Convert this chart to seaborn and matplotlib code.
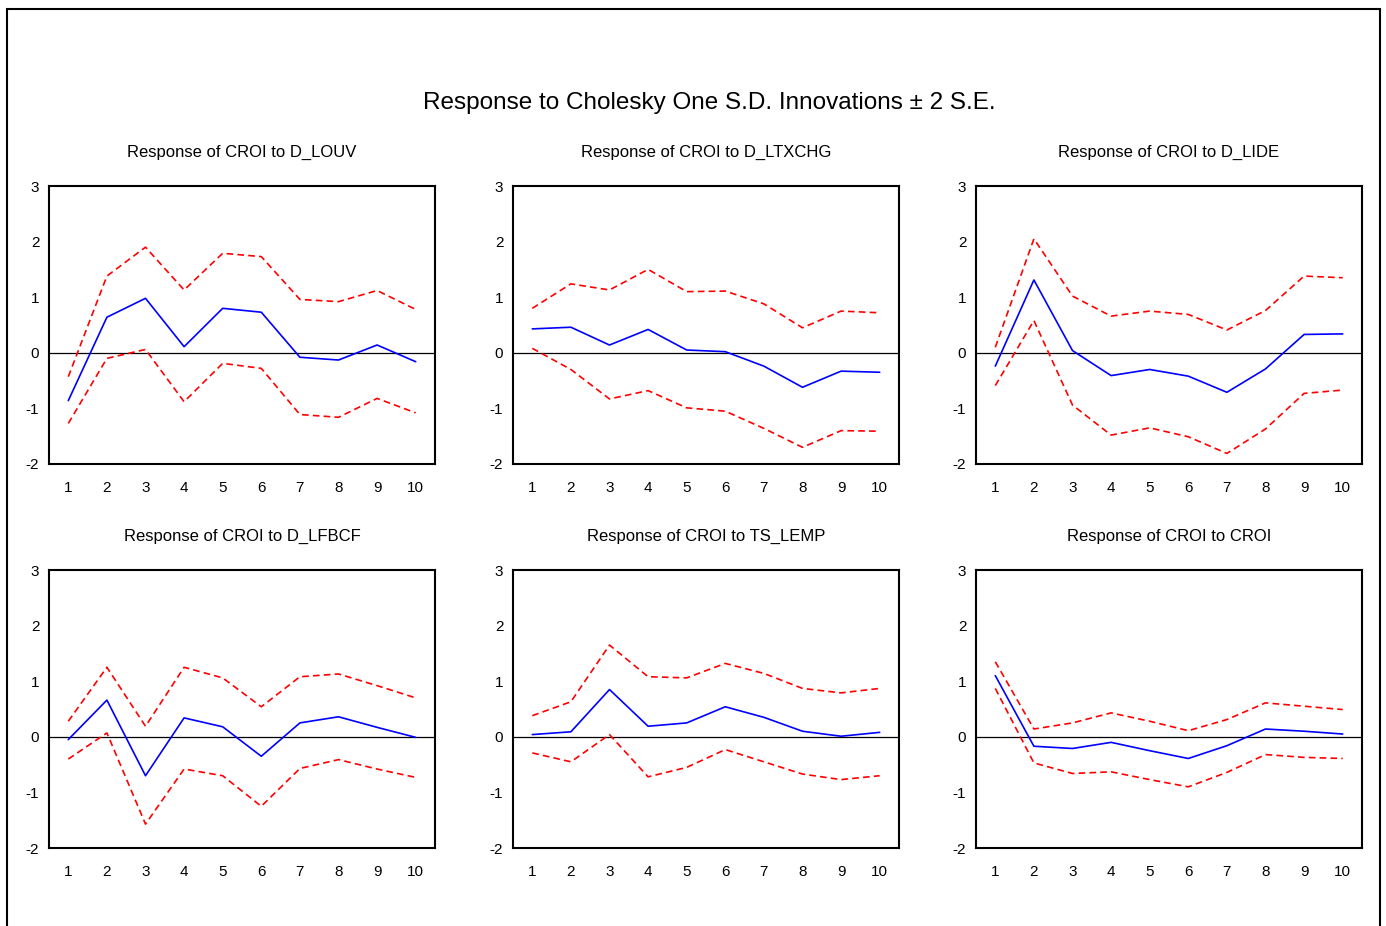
import numpy as np
import pandas as pd
import matplotlib
matplotlib.use("Agg")
import matplotlib.pyplot as plt
import seaborn as sns
from matplotlib.patches import Rectangle

# periods
periods = list(range(1, 11))

titles = ["Response of CROI to D_LOUV", "Response of CROI to D_LTXCHG",
          "Response of CROI to D_LIDE", "Response of CROI to D_LFBCF",
          "Response of CROI to TS_LEMP", "Response of CROI to CROI"]

# impulse responses (blue) and +/- 2 S.E. bands (red)
louv_resp = [-0.86, 0.64, 0.98, 0.11, 0.80, 0.73, -0.08, -0.13, 0.14, -0.16]
louv_up = [-0.43, 1.38, 1.90, 1.13, 1.79, 1.73, 0.96, 0.92, 1.12, 0.78]
louv_lo = [-1.27, -0.10, 0.06, -0.88, -0.19, -0.28, -1.11, -1.16, -0.82, -1.08]

ltxchg_resp = [0.43, 0.46, 0.14, 0.42, 0.05, 0.02, -0.24, -0.62, -0.33, -0.35]
ltxchg_up = [0.80, 1.24, 1.13, 1.50, 1.10, 1.11, 0.88, 0.45, 0.75, 0.72]
ltxchg_lo = [0.08, -0.30, -0.83, -0.68, -0.99, -1.05, -1.36, -1.70, -1.40, -1.41]

lide_resp = [-0.24, 1.31, 0.04, -0.41, -0.30, -0.42, -0.71, -0.29, 0.33, 0.34]
lide_up = [0.10, 2.05, 1.02, 0.66, 0.75, 0.69, 0.41, 0.76, 1.38, 1.35]
lide_lo = [-0.59, 0.58, -0.94, -1.48, -1.35, -1.51, -1.81, -1.37, -0.73, -0.67]

lfbcf_resp = [-0.05, 0.66, -0.70, 0.34, 0.18, -0.35, 0.25, 0.36, 0.17, -0.01]
lfbcf_up = [0.28, 1.25, 0.19, 1.25, 1.06, 0.54, 1.08, 1.13, 0.92, 0.70]
lfbcf_lo = [-0.40, 0.07, -1.57, -0.58, -0.70, -1.25, -0.57, -0.41, -0.58, -0.73]

lemp_resp = [0.04, 0.09, 0.85, 0.19, 0.25, 0.54, 0.35, 0.10, 0.01, 0.08]
lemp_up = [0.38, 0.63, 1.65, 1.08, 1.06, 1.32, 1.14, 0.87, 0.79, 0.87]
lemp_lo = [-0.29, -0.45, 0.04, -0.72, -0.55, -0.23, -0.45, -0.67, -0.77, -0.70]

croi_resp = [1.10, -0.17, -0.21, -0.10, -0.25, -0.39, -0.16, 0.14, 0.10, 0.05]
croi_up = [1.35, 0.14, 0.25, 0.43, 0.28, 0.11, 0.31, 0.61, 0.55, 0.49]
croi_lo = [0.87, -0.47, -0.66, -0.63, -0.77, -0.90, -0.64, -0.32, -0.37, -0.39]

responses = [louv_resp, ltxchg_resp, lide_resp, lfbcf_resp, lemp_resp, croi_resp]
uppers = [louv_up, ltxchg_up, lide_up, lfbcf_up, lemp_up, croi_up]
lowers = [louv_lo, ltxchg_lo, lide_lo, lfbcf_lo, lemp_lo, croi_lo]

sns.set_style("white")
plt.rcParams["font.family"] = ["Liberation Sans Narrow", "Liberation Sans", "DejaVu Sans"]
plt.rcParams["axes.unicode_minus"] = False
for k in ["text.color", "xtick.color", "ytick.color", "axes.labelcolor"]:
    plt.rcParams[k] = "black"

W, H = 1386, 926
fig = plt.figure(figsize=(W / 100, H / 100), dpi=100)

# outer frame
fig.patches.append(Rectangle((7 / W, -0.05), (1380 - 7) / W, 1.05 - 9 / H,
                             transform=fig.transFigure, fill=False,
                             edgecolor="black", lw=1.5, clip_on=False))

fig.text(709 / W, 1 - 103 / H, "Response to Cholesky One S.D. Innovations \u00b1 2 S.E.",
         ha="center", va="center", fontsize=17.5)

lefts = [49, 513, 976]
tops = [186, 570]
aw, ah = 386, 278

for i in range(6):
    r, c = divmod(i, 3)
    ax = fig.add_axes([lefts[c] / W, 1 - (tops[r] + ah) / H, aw / W, ah / H])
    df = pd.DataFrame({"period": periods, "resp": responses[i],
                       "up": uppers[i], "lo": lowers[i]})
    ax.axhline(0, color="black", lw=0.9)
    sns.lineplot(data=df, x="period", y="up", ax=ax, color="red", lw=1.2,
                 linestyle=(0, (4, 2.5)))
    sns.lineplot(data=df, x="period", y="lo", ax=ax, color="red", lw=1.2,
                 linestyle=(0, (4, 2.5)))
    sns.lineplot(data=df, x="period", y="resp", ax=ax, color="blue", lw=1.2)
    ax.set_xlim(0.5, 10.5)
    ax.set_ylim(-2, 3)
    ax.set_xticks(periods)
    ax.set_xticks(np.arange(0.5, 11, 1), minor=True)
    ax.set_yticks([-2, -1, 0, 1, 2, 3])
    ax.tick_params(axis="x", which="major", length=0, pad=12, labelsize=11)
    ax.tick_params(axis="x", which="minor", length=6, width=1, direction="out",
                   pad=2, color="black")
    ax.tick_params(axis="y", which="major", length=5, width=1, direction="out",
                   labelsize=11, pad=2, color="black")
    ax.set_xlabel("")
    ax.set_ylabel("")
    for s in ax.spines.values():
        s.set_color("black")
        s.set_linewidth(1.5)
    ax.set_title(titles[i], fontsize=12, pad=21)

plt.savefig("out.png", dpi=100)
